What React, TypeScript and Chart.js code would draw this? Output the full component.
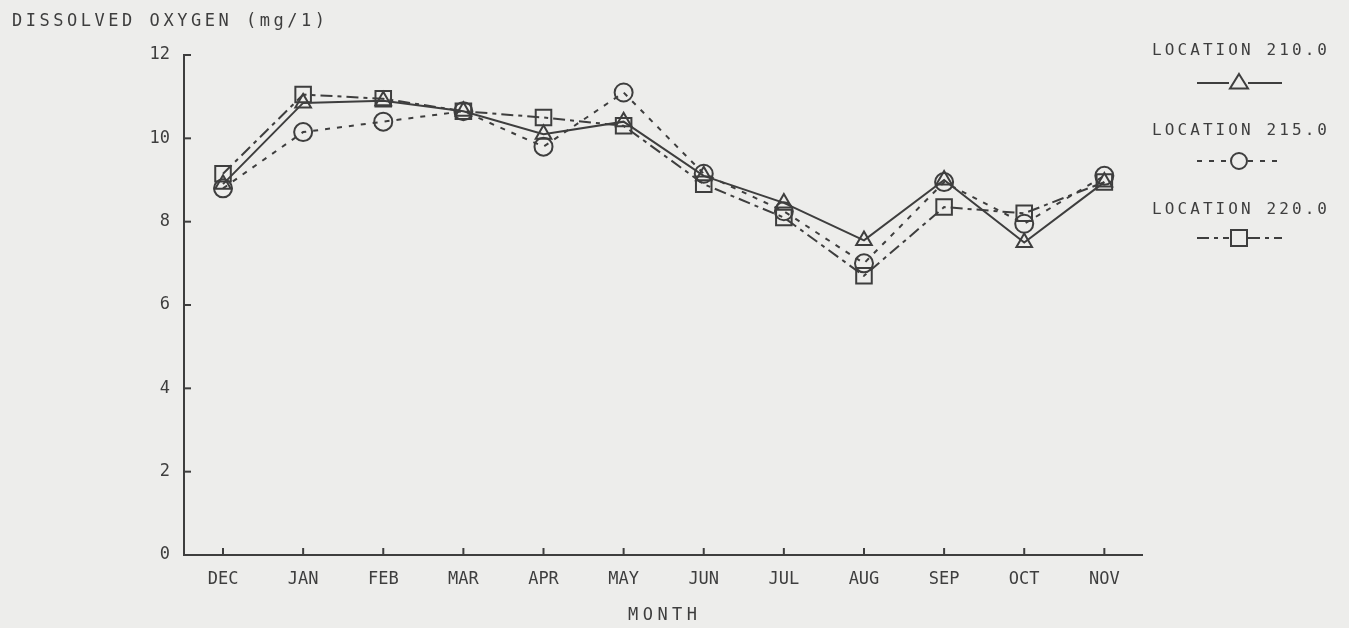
import React, { useEffect, useRef } from "react";
import { Chart, registerables } from "chart.js";

Chart.register(...registerables);

const MONTHS = ["DEC", "JAN", "FEB", "MAR", "APR", "MAY", "JUN", "JUL", "AUG", "SEP", "OCT", "NOV"];
const LOC_210 = [8.9, 10.85, 10.9, 10.65, 10.1, 10.4, 9.1, 8.45, 7.55, 9.0, 7.5, 8.95];
const LOC_215 = [8.8, 10.15, 10.4, 10.65, 9.8, 11.1, 9.15, 8.25, 7.0, 8.95, 7.95, 9.1];
const LOC_220 = [9.15, 11.05, 10.95, 10.65, 10.5, 10.3, 8.9, 8.1, 6.7, 8.35, 8.2, 8.95];
const SERIES_NAMES = ["LOCATION 210.0", "LOCATION 215.0", "LOCATION 220.0"];
const Y_TICKS = [0, 2, 4, 6, 8, 10, 12];
const TITLE = "DISSOLVED OXYGEN (mg/1)";
const X_TITLE = "MONTH";

const INK = "#3e3e3e";
const BG = "#ededeb";
const FONT = "'DejaVu Sans Mono', monospace";

function drawSpaced(ctx: CanvasRenderingContext2D, text: string, x: number, y: number, width: number, size: number) {
  ctx.font = `${size}px ${FONT}`;
  (ctx as any).letterSpacing = "0px";
  const w0 = ctx.measureText(text).width;
  const sp = (width - w0) / (text.length - 1);
  (ctx as any).letterSpacing = `${sp}px`;
  ctx.textAlign = "left";
  ctx.textBaseline = "middle";
  ctx.fillStyle = INK;
  ctx.fillText(text, x, y);
  (ctx as any).letterSpacing = "0px";
}

function drawMarker(ctx: CanvasRenderingContext2D, kind: string, x: number, y: number) {
  ctx.beginPath();
  if (kind === "triangle") {
    const s = 9;
    ctx.moveTo(x, y - s);
    ctx.lineTo(x + s, y + s * 0.6);
    ctx.lineTo(x - s, y + s * 0.6);
    ctx.closePath();
  } else if (kind === "circle") {
    ctx.arc(x, y, 8, 0, Math.PI * 2);
  } else {
    ctx.rect(x - 8, y - 8, 16, 16);
  }
  ctx.stroke();
}

const decorPlugin = {
  id: "decor",
  beforeDraw(chart: any) {
    const ctx = chart.ctx;
    ctx.save();
    ctx.fillStyle = BG;
    ctx.fillRect(0, 0, chart.width, chart.height);
    ctx.restore();
  },
  afterDraw(chart: any) {
    const ctx: CanvasRenderingContext2D = chart.ctx;
    const xs = chart.scales.x;
    const ys = chart.scales.y;
    const area = chart.chartArea;
    ctx.save();
    ctx.strokeStyle = INK;
    ctx.lineWidth = 2;
    ctx.setLineDash([]);
    Y_TICKS.forEach((v) => {
      const py = ys.getPixelForValue(v);
      ctx.beginPath();
      ctx.moveTo(area.left, py);
      ctx.lineTo(area.left + 7, py);
      ctx.stroke();
    });
    MONTHS.forEach((_, i) => {
      const px = xs.getPixelForValue(i);
      ctx.beginPath();
      ctx.moveTo(px, area.bottom);
      ctx.lineTo(px, area.bottom - 7);
      ctx.stroke();
    });

    drawSpaced(ctx, TITLE, 12, 22, 313, 17);
    drawSpaced(ctx, X_TITLE, 628, 616, 69, 17);

    const legendRows = [
      { ty: 51, ly: 83 },
      { ty: 131, ly: 161 },
      { ty: 210, ly: 238 },
    ];
    chart.data.datasets.forEach((ds: any, i: number) => {
      const r = legendRows[i];
      drawSpaced(ctx, SERIES_NAMES[i], 1152, r.ty, 175, 16);
      ctx.strokeStyle = INK;
      ctx.lineWidth = 2;
      ctx.setLineDash(ds.borderDash || []);
      ctx.beginPath();
      ctx.moveTo(1197, r.ly);
      ctx.lineTo(1229, r.ly);
      ctx.moveTo(1248, r.ly);
      ctx.lineTo(1282, r.ly);
      ctx.stroke();
      ctx.setLineDash([]);
      ctx.lineWidth = 2;
      drawMarker(ctx, ds.pointStyle, 1239, r.ly);
    });
    ctx.restore();
  },
};

export default function App() {
  const ref = useRef<HTMLCanvasElement>(null);
  useEffect(() => {
    if (!ref.current) return;
    const mk = (arr: number[]) => arr.map((v, i) => ({ x: i, y: v }));
    const chart = new Chart(ref.current, {
      type: "line",
      data: {
        datasets: [
          {
            label: SERIES_NAMES[0],
            data: mk(LOC_210),
            borderColor: INK,
            borderWidth: 2,
            pointStyle: "triangle",
            pointRadius: 9,
            pointBorderWidth: 2,
            pointBorderColor: INK,
            pointBackgroundColor: "rgba(0,0,0,0)",
            tension: 0,
          },
          {
            label: SERIES_NAMES[1],
            data: mk(LOC_215),
            borderColor: INK,
            borderWidth: 2,
            borderDash: [5, 7],
            pointStyle: "circle",
            pointRadius: 9,
            pointBorderWidth: 2,
            pointBorderColor: INK,
            pointBackgroundColor: "rgba(0,0,0,0)",
            tension: 0,
          },
          {
            label: SERIES_NAMES[2],
            data: mk(LOC_220),
            borderColor: INK,
            borderWidth: 2,
            borderDash: [12, 5, 4, 5],
            pointStyle: "rect",
            pointRadius: 11,
            pointBorderWidth: 2,
            pointBorderColor: INK,
            pointBackgroundColor: "rgba(0,0,0,0)",
            tension: 0,
          },
        ],
      },
      options: {
        animation: false,
        responsive: false,
        maintainAspectRatio: false,
        layout: { padding: { left: 0, right: 207, top: 55, bottom: 0 } },
        plugins: { legend: { display: false }, tooltip: { enabled: false } },
        scales: {
          x: {
            type: "linear",
            min: -0.487,
            max: 11.47,
            afterBuildTicks: (scale: any) => {
              scale.ticks = MONTHS.map((_, i) => ({ value: i }));
            },
            afterFit: (scale: any) => {
              scale.height = 73;
            },
            grid: { display: false, drawTicks: false },
            border: { display: true, color: INK, width: 2 },
            ticks: {
              autoSkip: false,
              maxRotation: 0,
              padding: 14,
              color: INK,
              font: { family: FONT, size: 17 },
              callback: (v: any) => MONTHS[v] ?? "",
            },
          },
          y: {
            min: 0,
            max: 12,
            afterBuildTicks: (scale: any) => {
              scale.ticks = Y_TICKS.map((v) => ({ value: v }));
            },
            afterFit: (scale: any) => {
              scale.width = 184;
            },
            grid: { display: false, drawTicks: false },
            border: { display: true, color: INK, width: 2 },
            ticks: {
              padding: 14,
              color: INK,
              font: { family: FONT, size: 17 },
            },
          },
        },
      },
      plugins: [decorPlugin],
    } as any);
    return () => chart.destroy();
  }, []);
  return (
    <div style={{ position: "fixed", left: 0, top: 0, width: 1349, height: 628, background: BG }}>
      <canvas ref={ref} width={1349} height={628} style={{ width: 1349, height: 628, display: "block" }} />
    </div>
  );
}
